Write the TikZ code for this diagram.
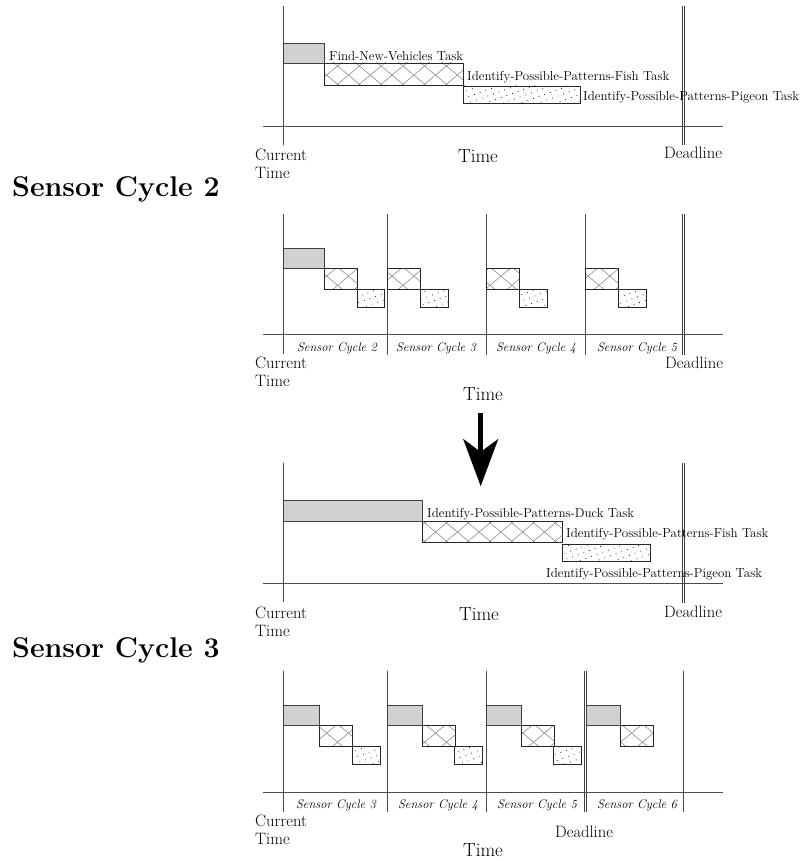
\documentclass[tikz,border=0pt]{standalone}
\usepackage{tikz}
\usetikzlibrary{arrows.meta,patterns.meta,positioning}

\begin{document}
\begin{tikzpicture}[x=1pt, y=-1pt,
    axisline/.style={draw=black!70, line width=0.8pt},
    dlline/.style={draw=black!75, line width=0.6pt},
    graybox/.style={fill=black!18, draw=black!75, line width=0.8pt},
    fishbox/.style={draw=black!85, line width=0.8pt,
        pattern={Lines[angle=40,distance=14pt,line width=0.6pt]}, pattern color=black!45,
        preaction={pattern={Lines[angle=-40,distance=14pt,line width=0.6pt]}, pattern color=black!45}},
    pigeonbox/.style={draw=black!85, line width=0.8pt,
        pattern={Dots[radius=0.5pt,distance=6pt,angle=20]}, pattern color=black},
    task/.style={font=\fontsize{13}{15}\selectfont, inner sep=0pt, anchor=base west},
    cyclabel/.style={font=\fontsize{12.5}{14}\selectfont\itshape, inner sep=0pt, anchor=base},
    sidelabel/.style={font=\fontsize{16.5}{18}\selectfont, inner sep=0pt, align=left},
    timelabel/.style={font=\fontsize{19}{21}\selectfont, inner sep=0pt, anchor=base},
    heading/.style={font=\fontsize{28.5}{30}\selectfont\bfseries, inner sep=0pt, anchor=base west},
    bigarrow/.style={-{Stealth[length=47pt,width=35pt,inset=13pt,line width=0.1pt]}, line width=4.7pt}
]
\useasboundingbox (0,0) rectangle (809,861);

% first plan
\foreach \dx in {-1.1,1.1}
    \draw[dlline] (683+\dx,6) -- (683+\dx,145);
\draw[axisline] (283,6) -- (283,145);
\draw[axisline] (263,126) -- (723,126);
\draw[graybox] (283,43) rectangle (324,63);
\draw[fishbox] (324,63) rectangle (463,85);
\draw[pigeonbox] (463,86) rectangle (580,103);
\node[task] (fnv1) at (329,61) {Find-New-Vehicles Task};
\node[task] (fish1) at (467,80.5) {Identify-Possible-Patterns-Fish Task};
\node[task] (pig1) at (583,101) {Identify-Possible-Patterns-Pigeon Task};
\node[sidelabel, anchor=north west] (cur1) at (255,148.5) {Current\\Time};
\node[timelabel] (time1) at (478,163) {Time};
\node[sidelabel, anchor=base west] (dl1) at (664,159) {Deadline};

\node[heading] (head2) at (12,196) {Sensor Cycle 2};

% sensor cycle 2
\foreach \dx in {-1.1,1.1}
    \draw[dlline] (683+\dx,214) -- (683+\dx,355);
\draw[axisline] (283,214) -- (283,354);
\foreach \s in {387,486,585}
    \draw[axisline] (\s,214) -- (\s,355);
\draw[axisline] (263,334) -- (723,334);
\draw[graybox] (283,248) rectangle (324,268);
\draw[fishbox] (324,268) rectangle (357,289);
\draw[pigeonbox] (357,289) rectangle (384,307);
\foreach \s in {387,486,585} {
    \draw[fishbox] (\s,268) rectangle ++(33,21);
    \draw[pigeonbox] (\s+33,289) rectangle ++(28,18);
}
\foreach \x/\n in {337/2,436/3,536/4,637/5}
    \node[cyclabel] (cyc2-\n) at (\x,351) {Sensor Cycle \n};
\node[sidelabel, anchor=north west] (cur2) at (255,356.5) {Current\\Time};
\node[timelabel] (time2) at (483,400) {Time};
\node[sidelabel, anchor=base west] (dl2) at (665,368) {Deadline};

% replanning
\coordinate (arrfrom) at (480.7,413);
\coordinate (arrto) at (480.7,486);
\draw[bigarrow] (arrfrom) -- (arrto);

% second plan
\foreach \dx in {-1.1,1.1}
    \draw[dlline] (683+\dx,463) -- (683+\dx,603);
\draw[axisline] (283,463) -- (283,602);
\draw[axisline] (263,583) -- (723,583);
\draw[graybox] (283,500) rectangle (422,521);
\draw[fishbox] (422,521) rectangle (562,542);
\draw[pigeonbox] (562,544) rectangle (650,561);
\node[task] (duck3) at (427,517) {Identify-Possible-Patterns-Duck Task};
\node[task] (fish3) at (566,537.5) {Identify-Possible-Patterns-Fish Task};
\node[task] (pig3) at (546,577) {Identify-Possible-Patterns-Pigeon Task};
\node[sidelabel, anchor=north west] (cur3) at (255,606.5) {Current\\Time};
\node[timelabel] (time3) at (479,620) {Time};
\node[sidelabel, anchor=base west] (dl3) at (664,617) {Deadline};

\node[heading] (head3) at (12,657) {Sensor Cycle 3};

% sensor cycle 3
\foreach \dx in {-1.1,1.1}
    \draw[dlline] (585+\dx,671) -- (585+\dx,812);
\draw[axisline] (283,671) -- (283,812);
\foreach \s in {387,486,683}
    \draw[axisline] (\s,671) -- (\s,812);
\draw[axisline] (263,792) -- (723,792);
\foreach \s/\g in {283/36,387/35,486/35,586/34}
    \draw[graybox] (\s,705) rectangle ++(\g,20);
\foreach \s in {319,422,521,620}
    \draw[fishbox] (\s,725) rectangle ++(33,21);
\foreach \s in {352,454,553}
    \draw[pigeonbox] (\s,746) rectangle ++(28,18);
\foreach \x/\n in {336/3,438/4,537/5,637/6}
    \node[cyclabel] (cyc3-\n) at (\x,808) {Sensor Cycle \n};
\node[sidelabel, anchor=north west] (cur4) at (255,814.5) {Current\\Time};
\node[timelabel] (time4) at (483,856) {Time};
\node[sidelabel, anchor=base west] (dl4) at (555,837) {Deadline};
\end{tikzpicture}
\end{document}
